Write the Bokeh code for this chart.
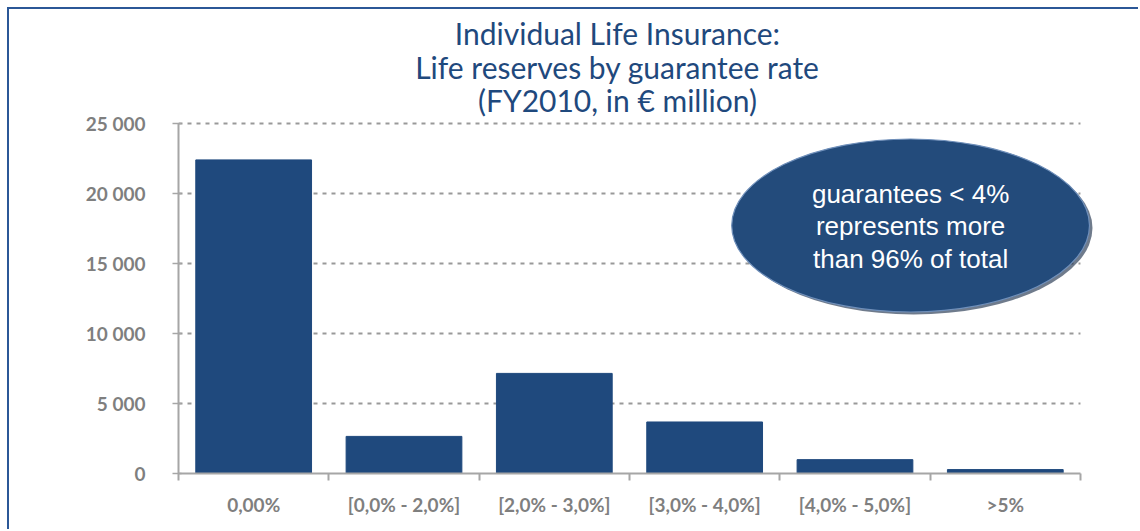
from bokeh.plotting import figure
from bokeh.models import Range1d, FixedTicker, Label
from bokeh.embed import file_html
from bokeh.resources import INLINE
import numpy as np

# ---- data ----
categories = ["0,00%", "[0,0% - 2,0%]", "[2,0% - 3,0%]", "[3,0% - 4,0%]", "[4,0% - 5,0%]", ">5%"]
reserves = [22400, 2650, 7150, 3680, 990, 280]
y_ticks = [0, 5000, 10000, 15000, 20000, 25000]
y_tick_labels = ["0", "5 000", "10 000", "15 000", "20 000", "25 000"]
title_lines = ["Individual Life Insurance:", "Life reserves by guarantee rate", "(FY2010, in \u20ac million)"]
note_lines = ["guarantees < 4%", "represents more", "than 96% of total"]

BAR = "#1F497D"
GRAY = "#999999"
AX = "#A6A6A6"
LABEL = "#7F7F7F"

n = len(categories)
xc = np.arange(n) + 0.5
y_max_axis = y_ticks[-1]

p = figure(width=1131, height=522, output_backend="svg", toolbar_location=None,
           x_range=Range1d(0, 6.1), y_range=Range1d(0, 33143),
           min_border_left=169, min_border_right=45, min_border_top=0, min_border_bottom=58)
p.styles = {"border-left": "2px solid #2B5797", "border-top": "2px solid #2B5797",
            "margin-left": "7px", "margin-top": "7px"}
p.outline_line_color = None
p.background_fill_color = "white"
p.border_fill_color = "white"
p.xgrid.grid_line_color = None
p.ygrid.grid_line_color = None

# dashed gridlines spanning the category axis only
grid_vals = y_ticks[1:]
p.segment(x0=[0] * len(grid_vals), x1=[n] * len(grid_vals), y0=grid_vals, y1=grid_vals,
          line_color=GRAY, line_dash="4 5", line_width=2)

p.vbar(x=xc, top=reserves, width=0.77, color=BAR)

# x axis: labels at centers, ticks at boundaries
xa = p.xaxis[0]
xa.bounds = (0, n)
xa.ticker = FixedTicker(ticks=list(xc), minor_ticks=list(range(n + 1)))
xa.major_label_overrides = {float(x): c for x, c in zip(xc, categories)}
xa.major_tick_line_color = None
xa.major_tick_out = 0
xa.major_tick_in = 0
xa.minor_tick_out = 7
xa.minor_tick_in = 0
xa.minor_tick_line_color = AX
xa.minor_tick_line_width = 2
xa.axis_line_color = AX
xa.axis_line_width = 2
xa.major_label_text_font = "Lato"
xa.major_label_text_font_style = "bold"
xa.major_label_text_font_size = "19px"
xa.major_label_text_color = LABEL
xa.major_label_standoff = 12

ya = p.yaxis[0]
ya.bounds = (0, y_max_axis)
ya.ticker = FixedTicker(ticks=y_ticks, minor_ticks=[])
ya.major_label_overrides = {t: l for t, l in zip(y_ticks, y_tick_labels)}
ya.axis_line_color = AX
ya.axis_line_width = 2
ya.major_tick_line_color = AX
ya.major_tick_line_width = 1.5
ya.major_tick_out = 6
ya.major_tick_in = 3
ya.minor_tick_line_color = None
ya.major_label_text_font = "Lato"
ya.major_label_text_font_style = "bold"
ya.major_label_text_font_size = "19px"
ya.major_label_text_color = LABEL
ya.major_label_standoff = 27

# title
title_x = 2.92
title_y = [31429, 29071, 26714]
for t, yy in zip(title_lines, title_y):
    p.add_layout(Label(x=title_x, y=yy, text=t, text_align="center", text_baseline="alphabetic",
                       text_font="Lato", text_font_size="30px", text_color=BAR))

# note ellipse
ex, ey, ew, eh = 4.87, 17714, 2.38, 12360
p.ellipse(x=[ex + 0.02], y=[ey - 180], width=[ew], height=[eh], fill_color="#0F2340", fill_alpha=0.6, line_color=None)
p.ellipse(x=[ex], y=[ey], width=[ew], height=[eh], fill_color="#234B7B", line_color="#6F8FBA", line_width=1.2)
note_y = [19929, 17714, 15357]
for t, yy in zip(note_lines, note_y):
    p.add_layout(Label(x=ex, y=yy, text=t, text_align="center", text_baseline="alphabetic",
                       text_font="Liberation Sans", text_font_size="26px", text_color="white"))

open("out.html", "w").write(file_html(p, INLINE))
